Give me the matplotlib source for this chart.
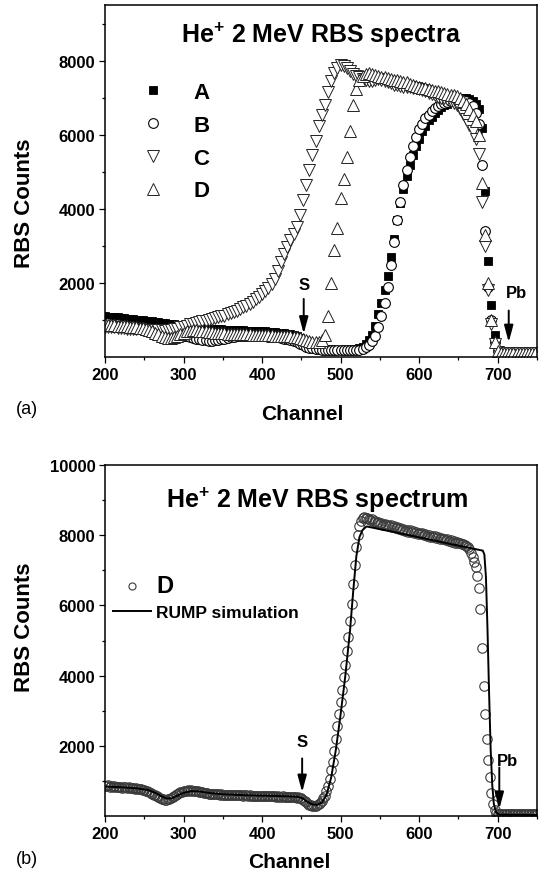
import numpy as np
import matplotlib
matplotlib.use('Agg')
import matplotlib.pyplot as plt

plt.rcParams['font.family'] = ['Liberation Sans', 'DejaVu Sans']
plt.rcParams['mathtext.fontset'] = 'custom'
plt.rcParams['mathtext.rm'] = 'Liberation Sans'
plt.rcParams['mathtext.bf'] = 'Liberation Sans:bold'

# ---------------- data: panel (a) ----------------
ch_top = np.arange(200, 749, 4)

counts_A = [
    1100, 1090, 1090, 1080, 1070, 1060, 1050, 1040, 1030, 1020,
    1010, 1000, 990, 980, 970, 960, 950, 940, 920, 910,
    900, 890, 880, 870, 860, 850, 840, 830, 820, 810,
    800, 790, 780, 770, 760, 760, 750, 750, 740, 740,
    730, 730, 720, 720, 720, 710, 710, 700, 700, 700,
    690, 690, 680, 680, 670, 660, 650, 640, 630, 610,
    590, 560, 520, 470, 420, 370, 320, 280, 250, 230,
    210, 200, 200, 190, 190, 190, 190, 190, 200, 200,
    210, 230, 270, 340, 450, 600, 850, 1150, 1450, 1800,
    2200, 2700, 3200, 3700, 4150, 4550, 4900, 5200, 5450, 5700,
    5900, 6100, 6250, 6400, 6500, 6600, 6680, 6750, 6800, 6850,
    6900, 6930, 6960, 6980, 7000, 6990, 6970, 6920, 6850, 6700,
    6200, 4500, 2600, 1400, 600, 200, 140, 130, 130, 130,
    130, 130, 130, 130, 130, 130, 130, 130]

counts_B = [
    920, 910, 900, 890, 880, 870, 860, 850, 840, 830,
    820, 810, 800, 790, 780, 770, 760, 740, 720, 700,
    680, 660, 640, 620, 600, 580, 560, 540, 520, 500,
    480, 460, 450, 440, 440, 450, 460, 480, 500, 520,
    540, 550, 560, 570, 570, 570, 570, 570, 570, 560,
    560, 560, 550, 550, 540, 530, 520, 500, 480, 460,
    430, 400, 360, 320, 280, 250, 230, 220, 210, 200,
    200, 190, 190, 190, 190, 190, 190, 190, 190, 190,
    190, 200, 220, 260, 330, 430, 580, 800, 1100, 1450,
    1900, 2500, 3100, 3700, 4200, 4650, 5050, 5400, 5700, 5950,
    6150, 6300, 6450, 6550, 6650, 6720, 6780, 6830, 6870, 6900,
    6930, 6950, 6960, 6960, 6950, 6920, 6870, 6780, 6600, 6300,
    5200, 3400, 1900, 1000, 400, 150, 110, 100, 100, 100,
    100, 100, 100, 100, 100, 100, 100, 100]

counts_C = [
    820, 810, 800, 800, 790, 780, 780, 770, 760, 760,
    750, 750, 740, 740, 730, 730, 720, 720, 720, 710,
    720, 730, 750, 770, 800, 820, 850, 880, 900, 920,
    940, 960, 980, 1000, 1020, 1050, 1070, 1100, 1120, 1150,
    1180, 1210, 1250, 1290, 1340, 1390, 1440, 1500, 1560, 1620,
    1700, 1780, 1870, 1970, 2100, 2330, 2560, 2780, 2970, 3150,
    3330, 3520, 3850, 4250, 4650, 5050, 5450, 5850, 6250, 6550,
    6800, 7150, 7450, 7680, 7820, 7880, 7860, 7800, 7720, 7650,
    7600, 7560, 7520, 7480, 7450, 7470, 7500, 7510, 7500, 7470,
    7440, 7400, 7360, 7340, 7320, 7310, 7300, 7290, 7280, 7260,
    7240, 7210, 7180, 7140, 7100, 7070, 7040, 7010, 6990, 6960,
    6930, 6870, 6800, 6700, 6580, 6430, 6270, 6100, 5900, 5500,
    4200, 3000, 1800, 900, 350, 140, 110, 100, 100, 100,
    100, 100, 100, 100, 100, 100, 100, 100]

counts_D = [
    880, 870, 860, 860, 850, 840, 840, 830, 820, 810,
    800, 790, 780, 760, 730, 700, 660, 610, 570, 540,
    520, 520, 540, 570, 610, 650, 690, 710, 720, 720,
    710, 700, 690, 680, 670, 660, 650, 640, 640, 630,
    630, 620, 620, 620, 610, 610, 610, 600, 600, 600,
    600, 590, 590, 590, 580, 580, 580, 570, 570, 560,
    550, 540, 520, 490, 450, 420, 400, 400, 410, 450,
    600, 1100, 2000, 2900, 3500, 4300, 4800, 5400, 6100, 6800,
    7250, 7480, 7600, 7650, 7670, 7650, 7620, 7600, 7580, 7560,
    7540, 7520, 7500, 7480, 7460, 7440, 7420, 7390, 7360, 7330,
    7300, 7280, 7260, 7240, 7220, 7200, 7180, 7160, 7140, 7110,
    7090, 7070, 7050, 7000, 6930, 6830, 6700, 6550, 6380, 6000,
    4700, 3300, 2000, 1000, 400, 150, 110, 100, 100, 100,
    100, 100, 100, 100, 100, 100, 100, 100]

# ---------------- data: panel (b) ----------------
ch_bot = np.arange(200, 751, 2)
counts_D_bot = [
    860, 850, 870, 840, 850, 830, 860, 840, 820, 840,
    830, 810, 830, 820, 800, 820, 810, 790, 800, 780,
    790, 770, 780, 760, 750, 740, 720, 700, 680, 660,
    640, 610, 590, 560, 540, 510, 490, 480, 470, 470,
    480, 490, 510, 540, 570, 600, 630, 650, 670, 690,
    700, 710, 720, 730, 720, 730, 720, 710, 700, 700,
    690, 680, 670, 660, 650, 650, 640, 640, 630, 630,
    620, 630, 620, 610, 620, 610, 610, 600, 610, 600,
    600, 610, 600, 590, 600, 590, 600, 590, 580, 590,
    590, 580, 590, 580, 580, 570, 580, 570, 580, 570,
    570, 580, 560, 570, 570, 560, 570, 560, 560, 550,
    560, 550, 550, 560, 540, 550, 540, 550, 540, 530,
    540, 530, 520, 530, 510, 500, 470, 430, 390, 350,
    320, 300, 290, 280, 290, 300, 330, 370, 430, 500,
    580, 700, 850, 1050, 1300, 1550, 1850, 2200, 2550, 2900,
    3250, 3600, 3950, 4300, 4700, 5100, 5550, 6050, 6600, 7150,
    7650, 8000, 8250, 8400, 8480, 8520, 8500, 8480, 8450, 8420,
    8450, 8380, 8400, 8350, 8380, 8320, 8350, 8300, 8330, 8280,
    8300, 8250, 8280, 8220, 8260, 8200, 8230, 8180, 8200, 8150,
    8170, 8130, 8160, 8100, 8140, 8080, 8110, 8060, 8090, 8040,
    8060, 8020, 8050, 8000, 8030, 7980, 8010, 7960, 7990, 7950,
    7970, 7930, 7950, 7900, 7930, 7880, 7900, 7860, 7880, 7840,
    7850, 7820, 7830, 7790, 7800, 7770, 7780, 7740, 7750, 7720,
    7700, 7650, 7600, 7500, 7380, 7250, 7100, 6850, 6500, 5900,
    4800, 3700, 2900, 2200, 1600, 1100, 650, 350, 170, 90,
    60, 50, 50, 50, 50, 50, 50, 50, 50, 50,
    50, 50, 50, 50, 50, 50, 50, 50, 50, 50,
    50, 50, 50, 50, 50, 50]

sim_ch = [200, 220, 240, 255, 265, 272, 278, 285, 292, 300, 310, 320, 335, 350,
          380, 420, 445, 452, 458, 464, 470, 476, 482, 488, 494, 500, 506, 512,
          516, 520, 524, 528, 533, 560, 600, 640, 681, 683, 685, 687, 689, 691,
          693, 695, 698, 702, 750]
sim_counts = [840, 820, 790, 740, 650, 560, 500, 500, 580, 660, 710, 700, 650, 620,
              590, 570, 550, 500, 400, 330, 320, 380, 600, 1100, 1900, 2900, 4000, 5300,
              6400, 7400, 7950, 8150, 8250, 8125, 7940, 7750, 7560, 7450, 6800, 5300, 3500, 1900,
              900, 350, 100, 40, 30]

x_major = [200, 300, 400, 500, 600, 700]
x_minor = [250, 350, 450, 550, 650, 750]
ya_major = [2000, 4000, 6000, 8000]
ya_minor = [1000, 3000, 5000, 7000, 9000]
yb_major = [2000, 4000, 6000, 8000, 10000]
yb_minor = [1000, 3000, 5000, 7000, 9000]

# ---------------- figure ----------------
W, H = 539, 878
fig = plt.figure(figsize=(W / 100, H / 100), dpi=100)
ax1 = fig.add_axes([105 / W, 1 - 358 / H, 432 / W, 352 / H])
ax2 = fig.add_axes([105 / W, 1 - 817 / H, 432 / W, 351 / H])


def style(ax, ymaj, ymin):
    ax.set_xticks(x_major)
    ax.set_xticks(x_minor, minor=True)
    ax.set_yticks(ymaj)
    ax.set_yticks(ymin, minor=True)
    for s in ax.spines.values():
        s.set_linewidth(1.1)
    ax.tick_params(which='major', direction='out', length=4, width=0.9,
                   labelsize=12, pad=3)
    ax.tick_params(which='minor', direction='out', length=2.5, width=0.9)
    for lab in ax.get_xticklabels() + ax.get_yticklabels():
        lab.set_fontweight('bold')


# panel (a)
ax1.plot(ch_top, counts_A, ls='none', marker='s', ms=6, mfc='black', mec='black',
         mew=0.6, label='A')
ax1.plot(ch_top, counts_B, ls='none', marker='o', ms=7, mfc='white', mec='black',
         mew=0.8, label='B')
ax1.plot(ch_top, counts_C, ls='none', marker='v', ms=8, mfc='white', mec='#222222',
         mew=0.7, label='C')
ax1.plot(ch_top, counts_D, ls='none', marker='^', ms=8, mfc='white', mec='#222222',
         mew=0.7, label='D')
ax1.set_xlim(200, 750)
ax1.set_ylim(0, 9514)
style(ax1, ya_major, ya_minor)

leg1 = ax1.legend(loc='upper left', bbox_to_anchor=(0.06, 0.781), frameon=False,
                  prop={'weight': 'bold', 'size': 16}, handlelength=2.0,
                  handletextpad=0.8, labelspacing=0.53, borderpad=0,
                  borderaxespad=0, numpoints=1)

ax1.text(0.5, 0.918, r'He$\mathbf{^{+}}$ 2 MeV RBS spectra', transform=ax1.transAxes,
         ha='center', va='center', fontsize=18, fontweight='bold')

arrow_kw = dict(arrowstyle='-|>,head_length=1.0,head_width=0.27', color='black',
                lw=1.4, mutation_scale=10, shrinkA=0, shrinkB=0)
ax1.annotate('', xy=(453, 630), xytext=(453, 1570), arrowprops=arrow_kw)
ax1.text(453, 1970, 'S', ha='center', va='center', fontsize=12, fontweight='bold')
ax1.annotate('', xy=(714, 400), xytext=(714, 1255), arrowprops=arrow_kw)
ax1.text(724, 1750, 'Pb', ha='center', va='center', fontsize=12, fontweight='bold')

ax1.set_ylabel('RBS Counts', fontsize=16, fontweight='bold')
ax1.yaxis.set_label_coords(-0.162, 0.44)
ax1.set_xlabel('Channel', fontsize=15, fontweight='bold')
ax1.xaxis.set_label_coords(0.456, -0.134)

# panel (b)
ax2.plot(ch_bot, counts_D_bot, ls='none', marker='o', ms=6.8, mfc='none',
         mec='#3a3a3a', mew=0.8, label='D')
ax2.plot(sim_ch, sim_counts, color='black', lw=1.4, label='RUMP simulation')
ax2.set_xlim(200, 750)
ax2.set_ylim(0, 10000)
style(ax2, yb_major, yb_minor)

leg2 = ax2.legend(loc='upper left', bbox_to_anchor=(0.0185, 0.69), frameon=False,
                  prop={'weight': 'bold', 'size': 12.5}, handlelength=2.2,
                  handletextpad=0.3, labelspacing=0.45, borderpad=0,
                  borderaxespad=0, numpoints=1, markerscale=0.75)
leg2.get_texts()[0].set_fontsize(17)

ax2.text(0.49, 0.903, r'He$\mathbf{^{+}}$ 2 MeV RBS spectrum', transform=ax2.transAxes,
         ha='center', va='center', fontsize=18, fontweight='bold')
ax2.annotate('', xy=(451, 680), xytext=(451, 1640), arrowprops=arrow_kw)
ax2.text(451, 2120, 'S', ha='center', va='center', fontsize=12, fontweight='bold')
ax2.annotate('', xy=(702, 200), xytext=(702, 1380), arrowprops=arrow_kw)
ax2.text(713, 1570, 'Pb', ha='center', va='center', fontsize=12, fontweight='bold')

ax2.set_ylabel('RBS Counts', fontsize=16, fontweight='bold')
ax2.yaxis.set_label_coords(-0.162, 0.541)
ax2.set_xlabel('Channel', fontsize=15, fontweight='bold')
ax2.xaxis.set_label_coords(0.426, -0.103)

fig.text(27 / W, 1 - 410 / H, '(a)', ha='center', va='center', fontsize=13)
fig.text(27 / W, 1 - 860 / H, '(b)', ha='center', va='center', fontsize=13)

fig.savefig('out.png', dpi=100)
